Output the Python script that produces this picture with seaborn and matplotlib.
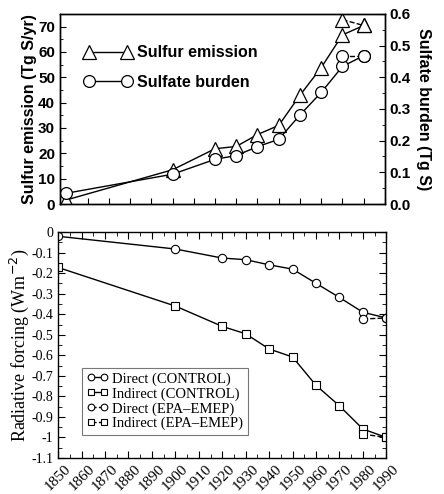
import numpy as np
import matplotlib
matplotlib.use("Agg")
import matplotlib.pyplot as plt
import seaborn as sns
from matplotlib.ticker import MultipleLocator

# top panel data
years = [1850, 1900, 1920, 1930, 1940, 1950, 1960, 1970, 1980, 1990]
emission = [1.6, 13.5, 21.8, 22.7, 27.4, 31.0, 42.9, 53.8, 66.7, 70.4]
burden = [0.034, 0.094, 0.141, 0.153, 0.181, 0.204, 0.281, 0.352, 0.434, 0.468]
years_alt = [1980, 1990]
emission_alt = [72.7, 70.4]
burden_alt = [0.468, 0.468]

# bottom panel data
direct_control = [-0.02, -0.082, -0.126, -0.134, -0.159, -0.18, -0.249, -0.318, -0.39, -0.418]
indirect_control = [-0.172, -0.36, -0.459, -0.495, -0.569, -0.608, -0.746, -0.846, -0.959, -1.0]
direct_epa = [-0.423, -0.418]
indirect_epa = [-0.984, -1.0]

sns.set_style("ticks")
plt.rcParams['font.family'] = ['Liberation Sans', 'DejaVu Sans']
plt.rcParams['xtick.direction'] = 'in'
plt.rcParams['ytick.direction'] = 'in'
plt.rcParams['axes.linewidth'] = 1.0
for k in ['text.color', 'axes.labelcolor', 'xtick.color', 'ytick.color', 'axes.edgecolor']:
    plt.rcParams[k] = 'black'

fig = plt.figure(figsize=(4.44, 4.94), dpi=100)

# ---- top panel ----
ax1 = fig.add_axes([0.135, 0.587, 0.732, 0.385])
ax2 = ax1.twinx()

sns.lineplot(x=years, y=emission, ax=ax1, color='black', lw=1, marker='^', markersize=10,
             markerfacecolor='white', markeredgecolor='black', markeredgewidth=0.9,
             label='Sulfur emission', legend=False)
sns.lineplot(x=years_alt, y=emission_alt, ax=ax1, color='black', lw=1, ls='--', marker='^',
             markersize=10, markerfacecolor='white', markeredgecolor='black', markeredgewidth=0.9,
             legend=False)
sns.lineplot(x=years, y=burden, ax=ax2, color='black', lw=1, marker='o', markersize=8.5,
             markerfacecolor='white', markeredgecolor='black', markeredgewidth=0.9,
             label='Sulfate burden', legend=False)
sns.lineplot(x=years_alt, y=burden_alt, ax=ax2, color='black', lw=1, ls='--', marker='o',
             markersize=8.5, markerfacecolor='white', markeredgecolor='black', markeredgewidth=0.9,
             legend=False)

ax1.set_xlim(1847, 2000)
ax1.set_ylim(0, 75)
ax2.set_ylim(0, 0.6)
ax1.xaxis.set_major_locator(MultipleLocator(10))
ax1.set_xticklabels([])
ax1.yaxis.set_major_locator(MultipleLocator(10))
ax1.yaxis.set_minor_locator(MultipleLocator(5))
ax2.set_yticks(np.arange(0, 0.61, 0.1))
ax2.set_yticklabels(['%.1f' % v for v in np.arange(0, 0.61, 0.1)])
ax2.yaxis.set_minor_locator(MultipleLocator(0.05))
for a in (ax1, ax2):
    a.tick_params(which='major', length=4, labelsize=11)
    a.tick_params(which='minor', length=2)
    for lab in a.get_yticklabels():
        lab.set_fontweight('bold')
ax1.set_ylabel('Sulfur emission (Tg S/yr)', fontsize=11.5, fontweight='bold', labelpad=1)
ax2.set_ylabel('Sulfate burden (Tg S)', fontsize=11.5, fontweight='bold', rotation=270, labelpad=14)

h1, l1 = ax1.get_legend_handles_labels()
h2, l2 = ax2.get_legend_handles_labels()
ax1.legend(h1 + h2, l1 + l2, loc='upper left', bbox_to_anchor=(0.03, 0.91), frameon=False,
           numpoints=2, handlelength=3.0, handletextpad=0.3, labelspacing=0.9,
           prop={'weight': 'bold', 'size': 11.5})

# ---- bottom panel ----
ax3 = fig.add_axes([0.131, 0.073, 0.739, 0.457])
serif = ['Liberation Serif', 'DejaVu Serif']
plt.rcParams['mathtext.fontset'] = 'custom'
plt.rcParams['mathtext.rm'] = 'Liberation Serif'
plt.rcParams['mathtext.it'] = 'Liberation Serif:italic'

sns.lineplot(x=years, y=direct_control, ax=ax3, color='black', lw=1, marker='o', markersize=6,
             markerfacecolor='white', markeredgecolor='black', markeredgewidth=0.8,
             label='Direct (CONTROL)')
sns.lineplot(x=years, y=indirect_control, ax=ax3, color='black', lw=1, marker='s', markersize=5.5,
             markerfacecolor='white', markeredgecolor='black', markeredgewidth=0.8,
             label='Indirect (CONTROL)')
sns.lineplot(x=years_alt, y=direct_epa, ax=ax3, color='black', lw=1, ls='--', marker='o',
             markersize=6, markerfacecolor='white', markeredgecolor='black', markeredgewidth=0.8,
             label='Direct (EPA\u2013EMEP)')
sns.lineplot(x=years_alt, y=indirect_epa, ax=ax3, color='black', lw=1, ls='--', marker='s',
             markersize=5.5, markerfacecolor='white', markeredgecolor='black', markeredgewidth=0.8,
             label='Indirect (EPA\u2013EMEP)')

ax3.set_xlim(1850, 1990)
ax3.set_ylim(-1.1, 0)
ax3.xaxis.set_major_locator(MultipleLocator(10))
ax3.xaxis.set_minor_locator(MultipleLocator(5))
yt = np.round(np.arange(-1.1, 0.01, 0.1), 1)
ax3.set_yticks(yt)
ylabs = []
for v in yt:
    if v == 0:
        ylabs.append('0')
    elif v == -1.0:
        ylabs.append('-1')
    else:
        ylabs.append('%.1f' % v)
ax3.set_yticklabels(ylabs)
ax3.yaxis.set_minor_locator(MultipleLocator(0.05))
ax3.tick_params(which='major', length=5, labelsize=10, right=True, top=True)
ax3.tick_params(which='minor', length=3, right=True, top=True)
for lab in ax3.get_xticklabels():
    lab.set_rotation(45)
    lab.set_family(serif)
    lab.set_fontsize(11)
for lab in ax3.get_yticklabels():
    lab.set_family(serif)
ax3.set_ylabel('Radiative forcing (Wm$^{-2}$)', family=serif, fontsize=13, labelpad=0)

leg = ax3.legend(loc='lower left', bbox_to_anchor=(0.05, 0.07), numpoints=2, handlelength=1.5,
                 markerscale=0.8, handletextpad=0.3, labelspacing=0.1, borderpad=0.3,
                 fancybox=False, prop={'family': serif, 'size': 10.5})
leg.get_frame().set_edgecolor('#555555')
leg.get_frame().set_linewidth(0.8)

fig.savefig('out.png', dpi=100)
